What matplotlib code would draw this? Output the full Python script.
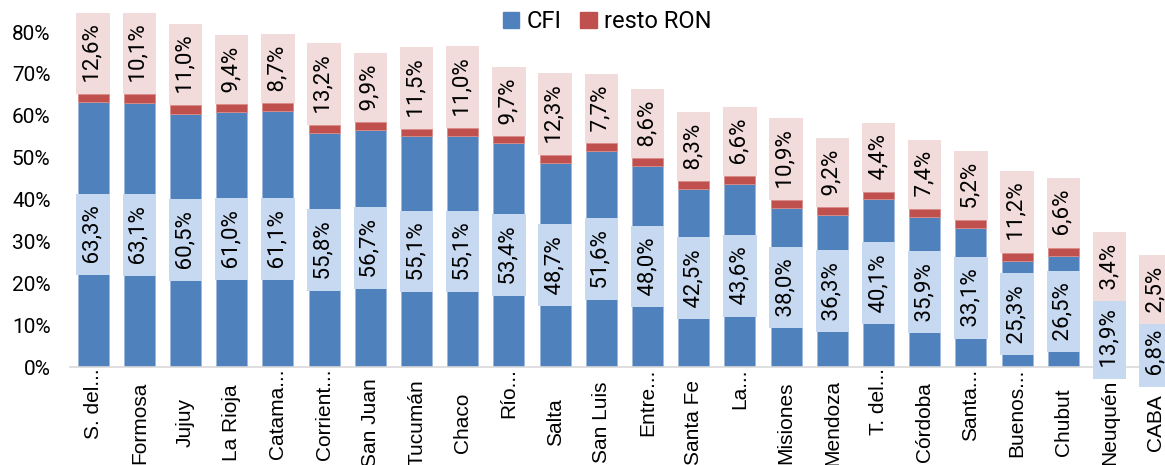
import numpy as np
import matplotlib.pyplot as plt
from matplotlib.patches import Patch

# datos
provincias = ['S. del...', 'Formosa', 'Jujuy', 'La Rioja', 'Catama...', 'Corrient...',
              'San Juan', 'Tucumán', 'Chaco', 'Río...', 'Salta', 'San Luis',
              'Entre...', 'Santa Fe', 'La...', 'Misiones', 'Mendoza', 'T. del...',
              'Córdoba', 'Santa...', 'Buenos...', 'Chubut', 'Neuquén', 'CABA']
cfi = [63.3, 63.1, 60.5, 61.0, 61.1, 55.8, 56.7, 55.1, 55.1, 53.4, 48.7, 51.6,
       48.0, 42.5, 43.6, 38.0, 36.3, 40.1, 35.9, 33.1, 25.3, 26.5, 13.9, 6.8]
# altura del tramo rojo tal como se ve en el grafico
resto_ron = [1.8, 2.0, 2.0, 1.7, 1.9, 2.0, 1.8, 1.8, 2.0, 1.7, 1.9, 1.8,
             1.8, 1.8, 1.9, 1.9, 1.8, 1.8, 1.9, 1.9, 2.0, 2.0, 1.8, 3.4]
# etiquetas del resto RON
resto_ron_lbl = [12.6, 10.1, 11.0, 9.4, 8.7, 13.2, 9.9, 11.5, 11.0, 9.7, 12.3, 7.7,
                 8.6, 8.3, 6.6, 10.9, 9.2, 4.4, 7.4, 5.2, 11.2, 6.6, 3.4, 2.5]

azul = '#4f81bd'
rojo = '#c0504d'
azul_claro = '#c6d9f1'
rosa = '#f2dcdb'

fig = plt.figure(figsize=(11.65, 4.65), dpi=100)
ax = fig.add_axes([70 / 1165, 98 / 465, 1 - 70 / 1165, (367 - 32) / 465])

x = np.arange(len(provincias))
cfi_f = np.array(cfi) / 100
ron_f = np.array(resto_ron) / 100

ax.bar(x, cfi_f, width=0.67, color=azul, edgecolor='#9db8dc', linewidth=0.6)
ax.bar(x, ron_f, width=0.67, bottom=cfi_f, color=rojo, edgecolor='#d88a88', linewidth=0.6)

fnt = 'Roboto'
pad = 0.28
fs = 16


def fmt(v):
    return ' ' + f'{v:.1f}%'.replace('.', ',') + ' '


# etiquetas CFI centradas en el tramo azul
for xi, v in zip(x, cfi):
    ax.text(xi, v / 200, fmt(v), rotation=90, ha='center',
            va='center', fontsize=fs, family=fnt, clip_on=False,
            bbox=dict(boxstyle=f'square,pad={pad}', fc=azul_claro, ec='none'))

# etiquetas resto RON arriba de la barra
for xi, c, r, lab in zip(x, cfi_f, ron_f, resto_ron_lbl):
    ax.annotate(fmt(lab), (xi, c + r), xytext=(0, pad * fs),
                textcoords='offset points', rotation=90, ha='center', va='bottom',
                fontsize=fs, family=fnt, annotation_clip=False,
                bbox=dict(boxstyle=f'square,pad={pad}', fc=rosa, ec='none'))

ax.set_xlim(-0.5, 23.2)
ax.set_ylim(0, 0.8)
ax.set_yticks(np.arange(0, 0.81, 0.1))
ax.set_yticklabels([f'{int(round(t * 100))}%' for t in np.arange(0, 0.81, 0.1)],
                   family=fnt, fontsize=15)
ax.tick_params(axis='y', length=0, pad=14)

# etiquetas del eje x: las cortadas arrancan pegadas al eje, las demas centradas
ax.set_xticks(x)
ax.set_xticklabels([])
ax.tick_params(axis='x', length=0)
for xi, nom in zip(x, provincias):
    if nom.endswith('...'):
        ax.annotate(nom, (xi, 0), xytext=(0, -1), textcoords='offset points',
                    rotation=90, ha='center', va='top', fontsize=15,
                    family='Liberation Sans', annotation_clip=False)
    else:
        ax.annotate(nom, (xi, 0), xytext=(0, -40), textcoords='offset points',
                    rotation=90, ha='center', va='center', fontsize=15,
                    family='Liberation Sans', annotation_clip=False)

for s in ['top', 'right', 'left']:
    ax.spines[s].set_visible(False)
ax.spines['bottom'].set_color('#d9d9d9')
ax.spines['bottom'].set_linewidth(1.2)

handles = [Patch(color=azul, label='CFI'), Patch(color=rojo, label='resto RON')]
fig.legend(handles=handles, loc='center', bbox_to_anchor=(607 / 1165, 1 - 22 / 465),
           ncol=2, frameon=False, prop={'family': fnt, 'size': 17},
           handlelength=0.7, handleheight=0.7, handletextpad=0.3, columnspacing=0.8)

fig.savefig('out.png', dpi=100)
